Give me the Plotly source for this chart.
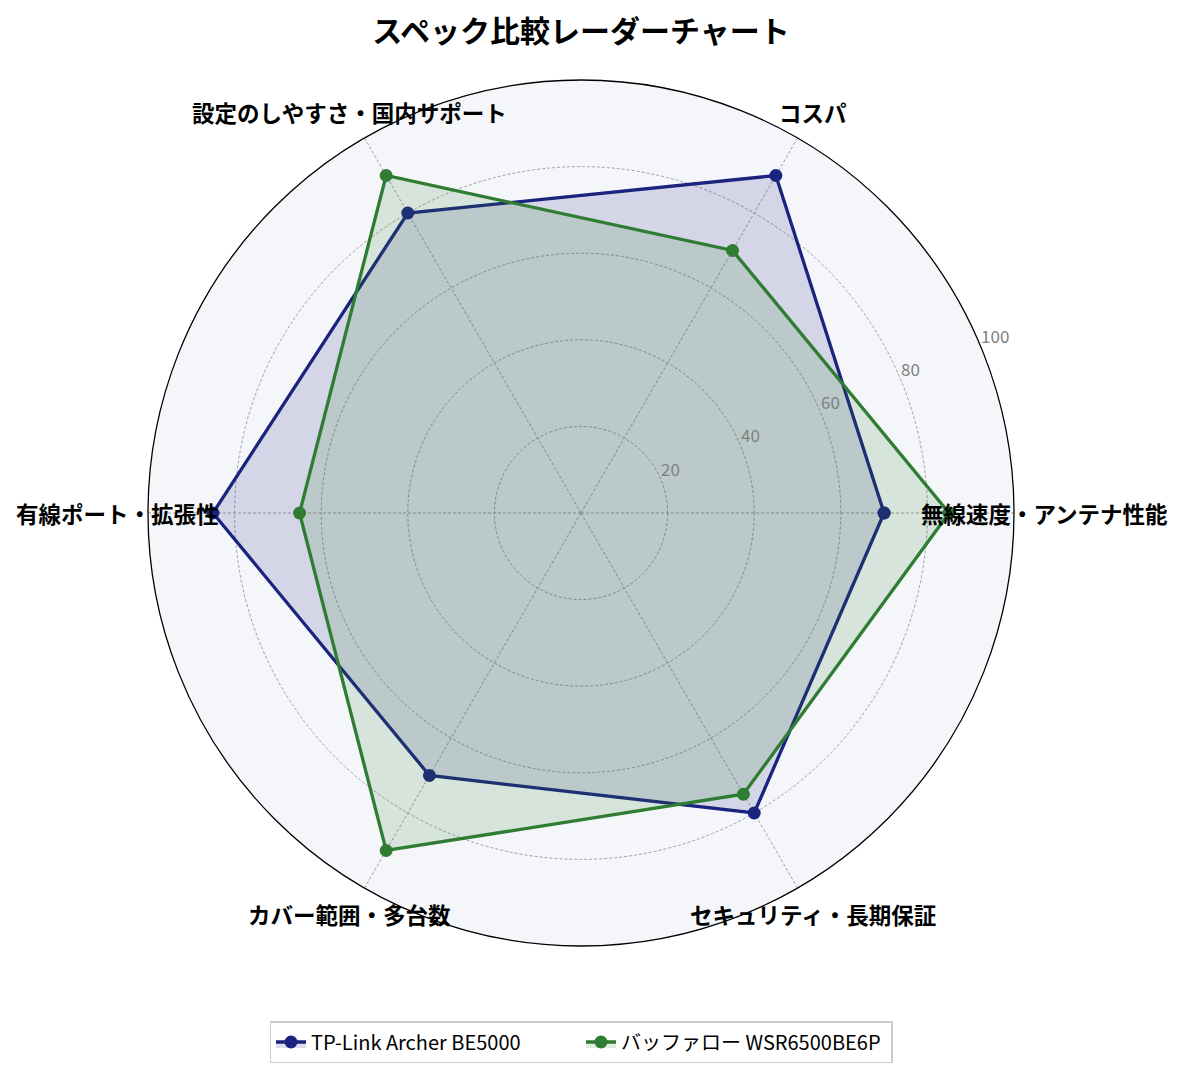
import math
import plotly.graph_objects as go

categories = ["無線速度・アンテナ性能", "コスパ", "設定のしやすさ・国内サポート",
              "有線ポート・拡張性", "カバー範囲・多台数", "セキュリティ・長期保証"]
tplink_name = "TP-Link Archer BE5000"
tplink_values = [70, 90, 80, 85, 70, 80]
buffalo_name = "バッファロー WSR6500BE6P"
buffalo_values = [85, 70, 90, 65, 90, 75]
radial_ticks = [20, 40, 60, 80, 100]
title_text = "スペック比較レーダーチャート"

NAVY = "#1a237e"
GREEN = "#2e7d32"
FONT = "Noto Sans CJK JP"
W, H = 1185, 1075

n = len(categories)
theta_deg = [i * 360 / n for i in range(n)]

# polar area geometry (pixels; 8px page body margin compensated)
CX, CY_B, R = 573, 570, 433  # center x, center y from bottom, radius
LABEL_R = 1.07

fig = go.Figure()

def add_series(name, values, color, fill):
    r = values + values[:1]
    th = theta_deg + theta_deg[:1]
    fig.add_trace(go.Scatterpolar(
        r=r, theta=th, mode="lines+markers", name=name,
        line=dict(color=color, width=3.3),
        marker=dict(color=color, size=13),
        fill="toself", fillcolor=fill,
    ))

add_series(tplink_name, tplink_values, NAVY, "rgba(26,35,126,0.15)")
add_series(buffalo_name, buffalo_values, GREEN, "rgba(46,125,50,0.15)")

# radial tick labels (left/bottom aligned at 22.5 deg)
fig.add_trace(go.Scatterpolar(
    r=radial_ticks, theta=[22.5] * len(radial_ticks), mode="text",
    text=[str(t) for t in radial_ticks], textposition="top right",
    textfont=dict(family=FONT, size=17, color="#808080"),
    showlegend=False, hoverinfo="skip", cliponaxis=False,
))

annotations = []
for cat, th in zip(categories, theta_deg):
    a = math.radians(th)
    annotations.append(dict(
        text=cat, xref="paper", yref="paper",
        x=(CX + LABEL_R * R * math.cos(a)) / W,
        y=(CY_B + LABEL_R * R * math.sin(a)) / H,
        xanchor="center", yanchor="middle", showarrow=False,
        font=dict(family=FONT, size=22.5, color="black", weight="bold"),
    ))

fig.update_layout(
    width=W, height=H,
    margin=dict(l=0, r=0, t=0, b=0),
    paper_bgcolor="white",
    font=dict(family=FONT),
    title=dict(text=title_text, x=CX / W, xanchor="center", y=1 - 23 / H, yanchor="middle",
               font=dict(family=FONT, size=30, color="black", weight="bold")),
    polar=dict(
        domain=dict(x=[(CX - R) / W, (CX + R) / W], y=[(CY_B - R) / H, (CY_B + R) / H]),
        bgcolor="#f5f6fa",
        radialaxis=dict(range=[0, 100], tickvals=radial_ticks, angle=22.5,
                        showticklabels=False, showline=False, ticks="",
                        gridcolor="#a0a0a0", griddash="3px,2px", gridwidth=0.8),
        angularaxis=dict(type="linear", rotation=0, direction="counterclockwise",
                         tickvals=theta_deg, showticklabels=False, ticks="",
                         showline=True, linecolor="black", linewidth=1.3,
                         gridcolor="#a0a0a0", griddash="3px,2px", gridwidth=0.8),
    ),
    annotations=annotations,
    legend=dict(orientation="h", x=CX / W, xanchor="center", y=1 - 1034 / H, yanchor="middle",
                bordercolor="#cccccc", borderwidth=1.5, bgcolor="white",
                entrywidth=265,
                font=dict(family=FONT, size=20, color="black")),
)

fig.write_html("out.html")
